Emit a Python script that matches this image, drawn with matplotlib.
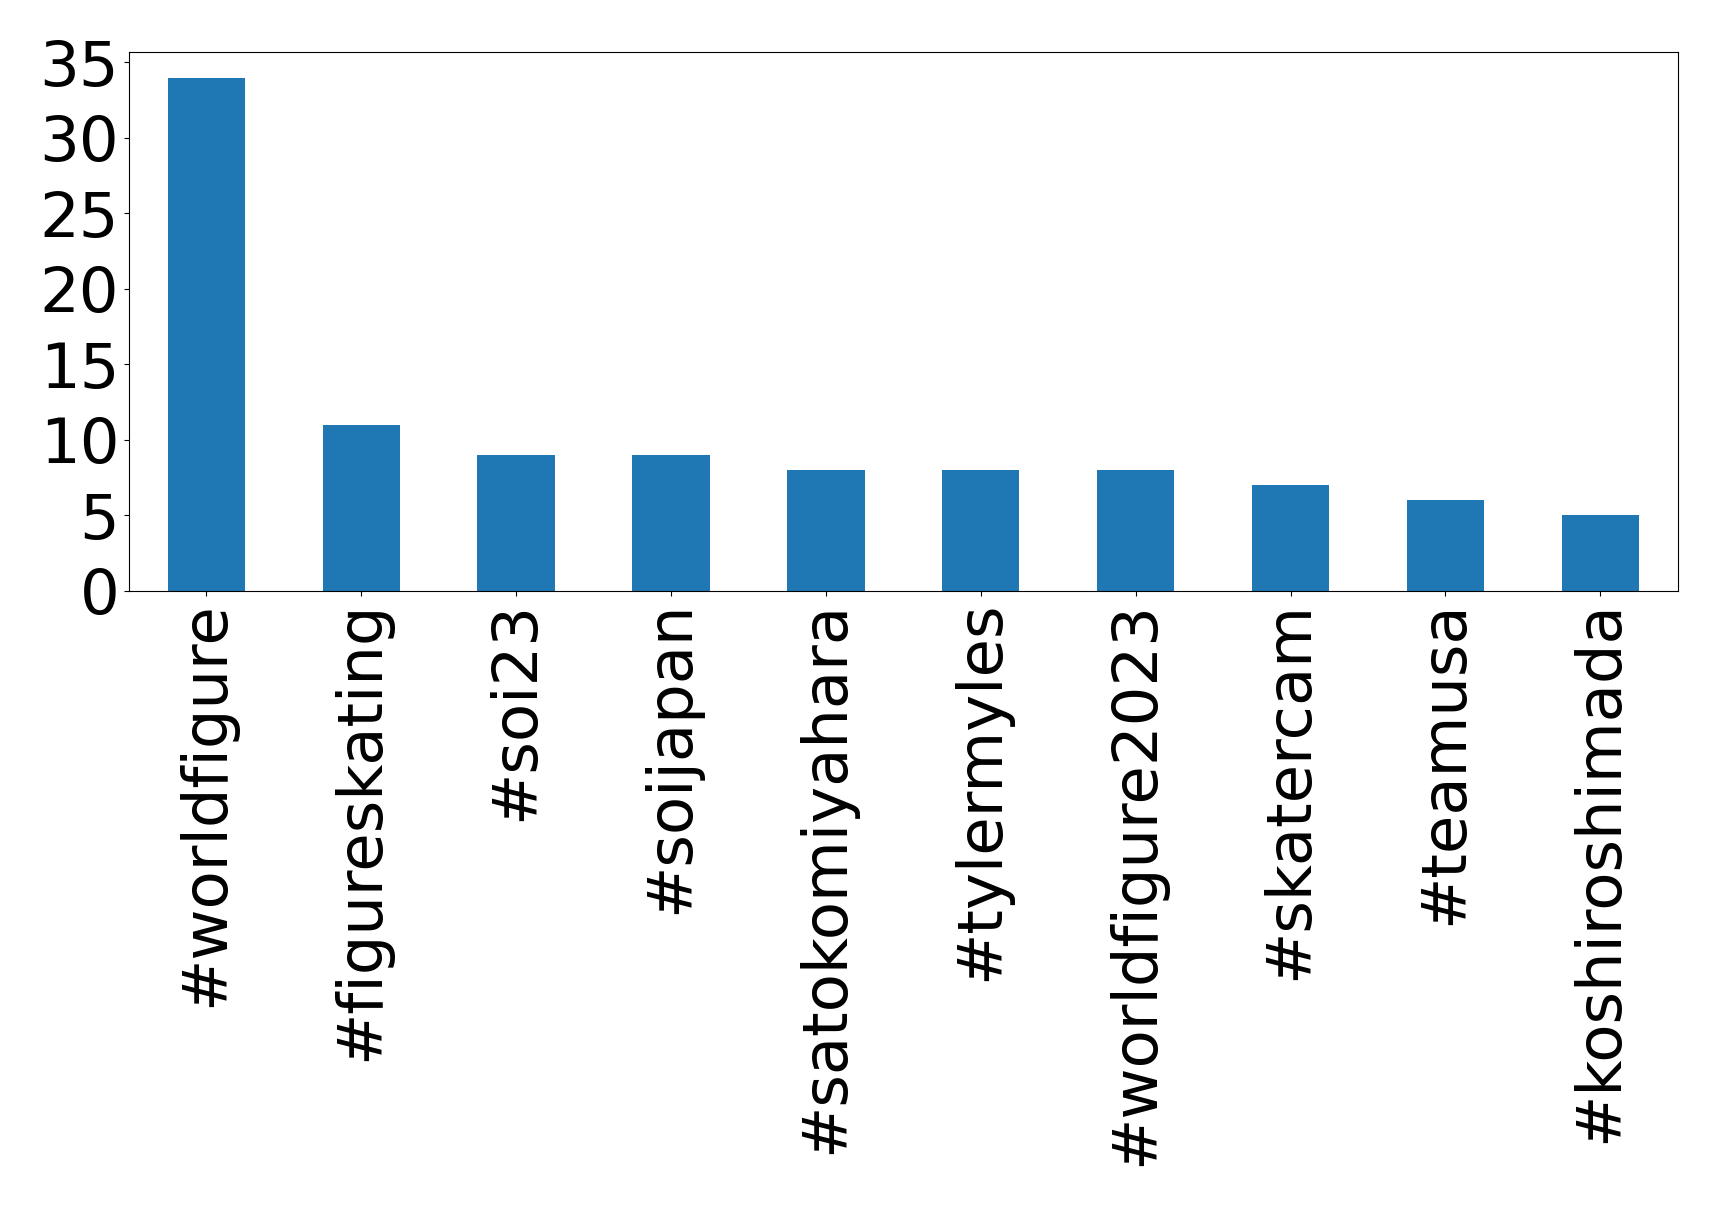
import matplotlib
matplotlib.use("Agg")
import matplotlib.pyplot as plt
import pandas as pd

hashtags = [
    "#worldfigure", "#figureskating", "#soi23", "#soijapan", "#satokomiyahara",
    "#tylermyles", "#worldfigure2023", "#skatercam", "#teamusa", "#koshiroshimada",
]
counts = [34, 11, 9, 9, 8, 8, 8, 7, 6, 5]
yticks = [0, 5, 10, 15, 20, 25, 30, 35]

s = pd.Series(counts, index=hashtags)

fig = plt.figure(figsize=(17.19, 12.06), dpi=100)
ax = fig.add_axes([0.075, 0.510, 0.901, 0.447])
s.plot(kind="bar", ax=ax, color="#1f77b4")
ax.set_yticks(yticks)
ax.tick_params(axis="both", labelsize=45)

fig.savefig("out.png", dpi=100)
